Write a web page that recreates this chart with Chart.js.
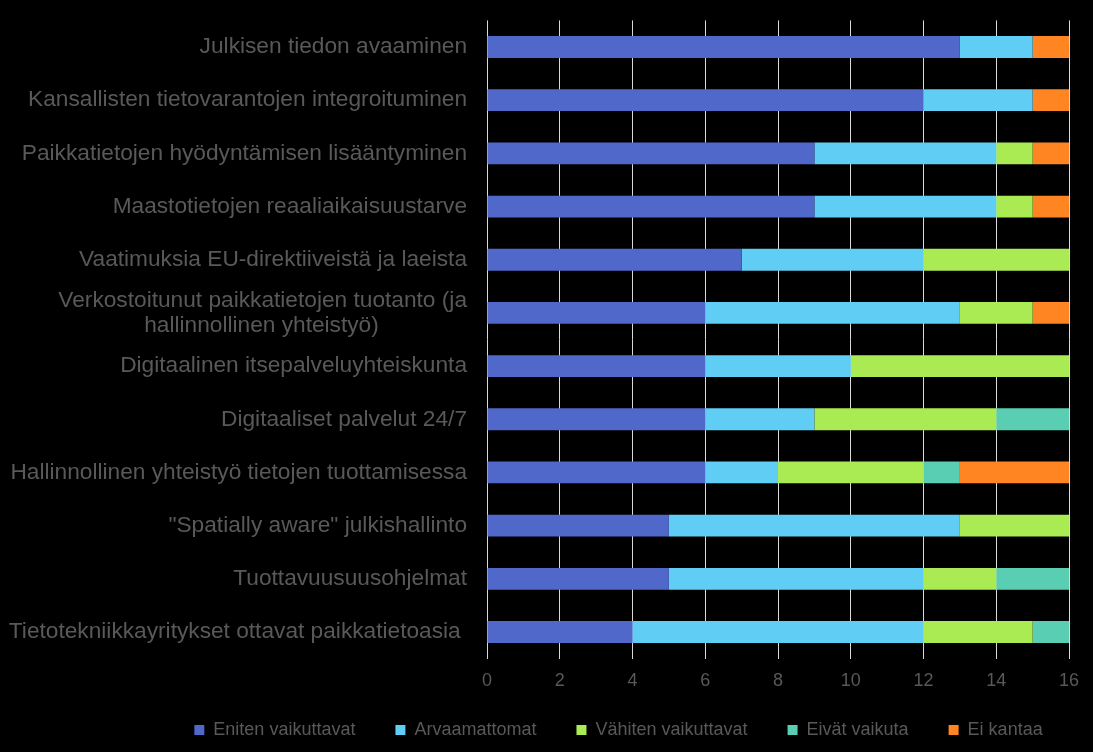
<!DOCTYPE html>
<html>
<head>
<meta charset="utf-8">
<script src="https://cdn.jsdelivr.net/npm/chart.js@4"></script>
<style>
    html, body { margin: 0; padding: 0; background: #000; }
    #wrap { width: 1093px; height: 752px; }
</style>
</head>
<body>
<div id="wrap"><canvas id="drivers-chart"></canvas></div>
<script>
const categories = [
    'Julkisen tiedon avaaminen',
    'Kansallisten tietovarantojen integroituminen',
    'Paikkatietojen hyödyntämisen lisääntyminen',
    'Maastotietojen reaaliaikaisuustarve',
    'Vaatimuksia EU-direktiiveistä ja laeista',
    ['Verkostoitunut paikkatietojen tuotanto (ja', 'hallinnollinen yhteistyö)'],
    'Digitaalinen itsepalveluyhteiskunta',
    'Digitaaliset palvelut 24/7',
    'Hallinnollinen yhteistyö tietojen tuottamisessa',
    '"Spatially aware" julkishallinto',
    'Tuottavuusuusohjelmat',
    'Tietotekniikkayritykset ottavat paikkatietoasia '
];

const eniten    = [13, 12, 9, 9, 7, 6, 6, 6, 6, 5, 5, 4];
const arvaamat  = [2, 3, 5, 5, 5, 7, 4, 3, 2, 8, 7, 8];
const vahiten   = [0, 0, 1, 1, 4, 2, 6, 5, 4, 3, 2, 3];
const eivat     = [0, 0, 0, 0, 0, 0, 0, 2, 1, 0, 2, 1];
const eiKantaa  = [1, 1, 1, 1, 0, 1, 0, 0, 3, 0, 0, 0];

const xTicks = [0, 2, 4, 6, 8, 10, 12, 14, 16];

const textColor = '#595959';
const labelFont = 'Liberation Sans, Arial, sans-serif';

// center the second line of a wrapped label under the first one
const measureCtx = document.createElement('canvas').getContext('2d');
function padLines(lines) {
    measureCtx.font = '22.7px ' + labelFont;
    const widths = lines.map(l => measureCtx.measureText(l).width);
    const maxW = Math.max(...widths);
    const space = measureCtx.measureText(' ').width;
    return lines.map((l, i) => l + ' '.repeat(Math.round((maxW - widths[i]) / 2 / space)));
}

// the legend in the source sits a bit right of the page centre
const legendSpot = {
    id: 'legendSpot',
    afterLayout(chart) {
        chart.legend.left = 144;
        chart.legend.right = 1093;
        chart.legend.top = 681;
    }
};

function bar(label, data, color) {
    return {
        label: label,
        data: data,
        backgroundColor: color,
        borderWidth: 0,
        categoryPercentage: 1,
        barPercentage: 0.41
    };
}

const ctx = document.getElementById('drivers-chart').getContext('2d');
const driversChart = new Chart(ctx, {
    type: 'bar',
    data: {
        labels: categories,
        datasets: [
            bar('Eniten vaikuttavat', eniten, '#5068C9'),
            bar('Arvaamattomat', arvaamat, '#60CDF4'),
            bar('Vähiten vaikuttavat', vahiten, '#AAEB53'),
            bar('Eivät vaikuta', eivat, '#5ACEB2'),
            bar('Ei kantaa', eiKantaa, '#FF8422')
        ]
    },
    options: {
        indexAxis: 'y',
        responsive: true,
        maintainAspectRatio: false,
        animation: false,
        layout: {
            padding: {top: 20.4, right: 24, left: 0, bottom: -30}
        },
        scales: {
            x: {
                stacked: true,
                min: 0,
                max: 16,
                afterFit(scale) { scale.height = 55.4; },
                afterBuildTicks(scale) {
                    scale.ticks = xTicks.map(v => ({value: v}));
                },
                grid: {
                    color: '#d9d9d9',
                    lineWidth: 1,
                    drawTicks: false
                },
                border: { display: false },
                ticks: {
                    color: textColor,
                    padding: 12,
                    font: { family: labelFont, size: 18 }
                }
            },
            y: {
                stacked: true,
                afterFit(scale) {
                    scale.width = 487;
                    scale.paddingTop = 0;
                    scale.paddingBottom = 0;
                },
                grid: { display: false, drawTicks: false },
                border: { display: false },
                ticks: {
                    color: textColor,
                    padding: 20,
                    autoSkip: false,
                    font: { family: labelFont, size: 22.7, lineHeight: 1.1 },
                    callback: function(value) {
                        const lbl = this.getLabelForValue(value);
                        return Array.isArray(lbl) ? padLines(lbl) : lbl;
                    }
                }
            }
        },
        plugins: {
            legend: {
                position: 'bottom',
                labels: {
                    color: textColor,
                    boxWidth: 10,
                    boxHeight: 10,
                    padding: 40,
                    font: { family: labelFont, size: 18 }
                }
            },
            tooltip: { enabled: false }
        }
    },
    plugins: [legendSpot]
});
</script>
</body>
</html>
